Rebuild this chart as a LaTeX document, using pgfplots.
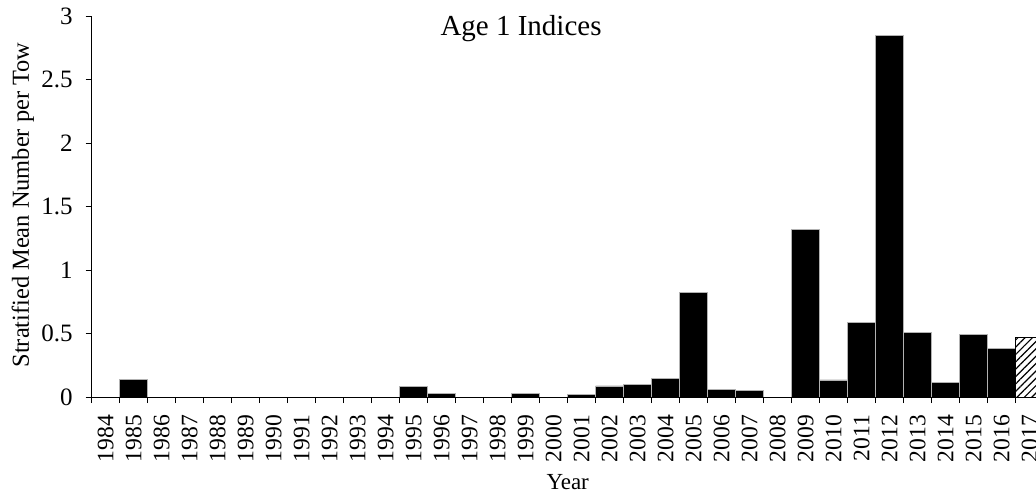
\documentclass[border=0pt]{standalone}
\usepackage{pgfplots}
\pgfplotsset{compat=1.18}
\usepackage{fontspec}
\setmainfont{Liberation Serif}
\usetikzlibrary{patterns.meta}
\begin{document}
\begin{tikzpicture}
\begin{axis}[
  scale only axis,
  width=476pt, height=190.5pt,
  xmin=1983.5, xmax=2017.5,
  ymin=0, ymax=3,
  axis x line*=bottom, axis y line*=left,
  axis on top,
  axis line style={line width=0.5pt},
  ytick={0,0.5,1,1.5,2,2.5,3},
  xtick={1984,...,2017},
  minor xtick={1983.5,1984.5,...,2017.5},
  major x tick style={draw=none},
  minor x tick style={line width=0.5pt, black},
  major y tick style={line width=0.5pt, black},
  tick align=outside,
  major tick length=3pt, minor tick length=3pt,
  /pgf/number format/assume math mode=true,
  x tick label style={rotate=90, anchor=east, xshift=-2.5pt, font=\fontsize{11.8}{12}\selectfont, /pgf/number format/1000 sep={}},
  y tick label style={xshift=-3pt, font=\fontsize{12.5}{13}\selectfont},
  xlabel={Year},
  xlabel style={at={(axis description cs:0.5,0)}, anchor=base, yshift=-46pt, font=\fontsize{11.5}{12}\selectfont},
  ylabel={Stratified Mean Number per Tow},
  ylabel style={at={(axis description cs:-0.0659,0.504)}, anchor=base, rotate=0, font=\fontsize{12.2}{13}\selectfont},
  every axis title shift=0pt,
  title={Age 1 Indices},
  title style={at={(axis description cs:0.451,0.95)}, anchor=base, font=\fontsize{14.5}{15}\selectfont},
  ybar, bar width=1,
]
\addplot[fill=black, draw=gray!60, line width=0.4pt, bar shift=0pt] coordinates {
(1984,0) (1985,0.14) (1986,0) (1987,0) (1988,0) (1989,0) (1990,0) (1991,0)
(1992,0) (1993,0) (1994,0) (1995,0.085) (1996,0.025) (1997,0) (1998,0)
(1999,0.027) (2000,0) (2001,0.022) (2002,0.087) (2003,0.10) (2004,0.148)
(2005,0.82) (2006,0.063) (2007,0.054) (2008,0) (2009,1.32) (2010,0.134)
(2011,0.587) (2012,2.845) (2013,0.505) (2014,0.113) (2015,0.495) (2016,0.38)
};
\addplot[fill=white, draw=black, line width=0.5pt, bar shift=0pt,
  postaction={pattern={Lines[angle=45,distance=2.6pt,line width=0.6pt]}}] coordinates {(2017,0.468)};
\end{axis}
\pgfresetboundingbox
\useasboundingbox (-45.85pt,-49pt) rectangle (472.15pt,198.5pt);
\end{tikzpicture}
\end{document}
